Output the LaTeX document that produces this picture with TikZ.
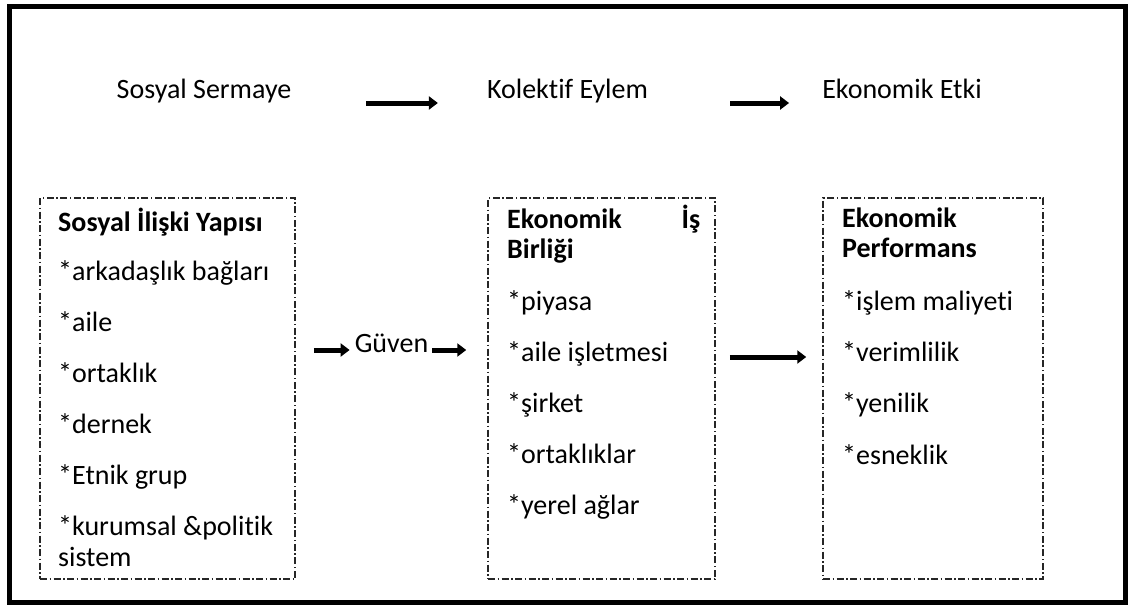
\documentclass[tikz,border=0pt]{standalone}
\usepackage{fontspec}
\setmainfont[Ligatures={NoCommon}]{Carlito}
\usetikzlibrary{arrows.meta}
\newcommand{\diagfont}{\fontsize{28}{32}\selectfont}
\tikzstyle{stage}=[inner sep=0pt,anchor=mid,font=\diagfont]
\tikzstyle{entry}=[inner sep=0pt,anchor=mid west,font=\diagfont]
\tikzstyle{head}=[entry,font=\diagfont\bfseries]
\tikzstyle{box}=[draw=black!85,line width=1.5pt,dash pattern=on 7pt off 2.5pt on 1.5pt off 2.5pt,minimum height=381pt,inner sep=0pt]
\tikzstyle{flow}=[draw,line width=5pt,-{Triangle[length=9pt,width=13pt]}]

\begin{document}
\begin{tikzpicture}[x=1pt,y=-1pt]
    \useasboundingbox (0,0) rectangle (1128,605);
    % outer frame
    \draw[line width=5pt] (9.5,6.5) rectangle (1125.5,602.5);

    % First the top row
    \foreach \pos/\name/\txt in {{(204,96)/ss/Sosyal Sermaye}, {(567.5,96)/ke/Kolektif Eylem}, {(902,96)/ee/Ekonomik Etki}}
        \node[stage] (\name) at \pos {\txt};
    \path[flow, shorten <=75pt, shorten >=49pt] ([yshift=-7pt]ss.mid east) -- ([yshift=-7pt]ke.mid west);
    \path[flow, shorten <=82pt, shorten >=33pt] ([yshift=-7pt]ke.mid east) -- ([yshift=-7pt]ee.mid west);

    % Then the three boxes
    \node[box, minimum width=255pt] (sib) at (167.5,388.5) {};
    \node[box, minimum width=227pt] (eib) at (601.5,388.5) {};
    \node[box, minimum width=220pt] (ep) at (933,388.5) {};

    % box texts
    \node[head] (sib0) at (58,229) {Sosyal İlişki Yapısı};
    \foreach \y/\txt [count=\i] in {278/*arkadaşlık bağları, 329/*aile, 380/*ortaklık, 431/*dernek, 482/*Etnik grup, 533/*kurumsal \&politik, 564/sistem}
        \node[entry] (sib\i) at (58,\y) {\txt};

    \node[head] (eib0) at (507,226) {\makebox[193pt][l]{Ekonomik\hfill İş}};
    \node[head] (eib00) at (507,256) {Birliği};
    \foreach \y/\txt [count=\i] in {308/*piyasa, 359/*aile işletmesi, 410/*şirket, 461/*ortaklıklar, 512/*yerel ağlar}
        \node[entry] (eib\i) at (507,\y) {\txt};

    \node[head] (ep0) at (842,225) {Ekonomik};
    \node[head] (ep00) at (842,255) {Performans};
    \foreach \y/\txt [count=\i] in {308/*işlem maliyeti, 359/*verimlilik, 410/*yenilik, 462/*esneklik}
        \node[entry] (ep\i) at (842,\y) {\txt};

    % Connect boxes
    \node[stage] (gv) at (391.5,350) {Güven};
    \path[flow, shorten <=18pt, shorten >=5pt] (sib.east |- gv.mid) -- (gv.mid west);
    \path[flow, shorten <=4pt, shorten >=21pt] (gv.mid east) -- (eib.west |- gv.mid);
    \path[flow, shorten <=14pt, shorten >=16pt] ([yshift=31.5pt]eib.east) -- ([yshift=31.5pt]ep.west);
\end{tikzpicture}
\end{document}
